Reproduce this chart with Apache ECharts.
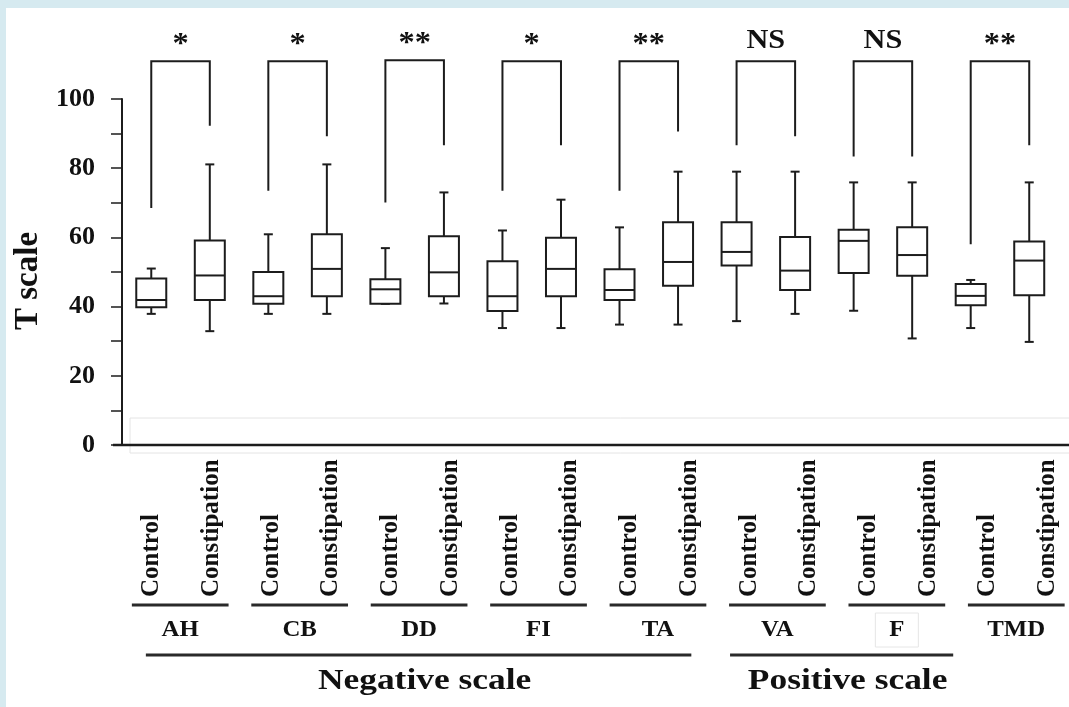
<!DOCTYPE html>
<html><head><meta charset="utf-8">
<script src="https://cdn.jsdelivr.net/npm/echarts@6/dist/echarts.min.js"></script>
<style>
html,body{margin:0;padding:0;background:#d6eaf0;overflow:hidden;width:1069px;height:707px;}
#bg{position:absolute;left:6px;top:8px;width:1120px;height:720px;background:#fff;}
#c{position:absolute;left:0;top:0;width:1110px;height:707px;}
</style>
</head><body><div id="bg"></div><div id="c"></div>
<script>
// ---------- data ----------
const categories = ['Control','Constipation','Control','Constipation','Control','Constipation','Control','Constipation',
                    'Control','Constipation','Control','Constipation','Control','Constipation','Control','Constipation'];
const groupNames = ['AH','CB','DD','FI','TA','VA','F','TMD'];
const superNames = ['Negative scale','Positive scale'];
const superFirst = [0, 10];   // first category index of each super group
const superLast  = [9, 13];   // last category index of each super group
const minVals = [37.9,32.9, 37.9,37.9, 40.8,40.9, 33.8,33.8, 34.8,34.8, 35.8,37.9, 38.8,30.8, 33.8,29.8];
const q1Vals  = [39.8,41.9, 40.8,43.0, 40.8,43.0, 38.7,43.0, 41.9,46.0, 51.9,44.8, 49.7,48.9, 40.4,43.3];
const medVals = [41.9,49.0, 43.0,50.9, 45.0,49.9, 43.0,50.9, 44.8,52.9, 55.8,50.4, 59.0,54.9, 43.1,53.3];
const q3Vals  = [48.1,59.1, 50.0,60.9, 47.9,60.3, 53.1,59.9, 50.8,64.4, 64.4,60.1, 62.2,62.9, 46.5,58.8];
const maxVals = [51.0,81.1, 60.9,81.1, 56.9,73.0, 62.0,70.9, 62.9,79.0, 79.0,79.0, 75.9,75.9, 47.7,75.9];
const sigLabels  = ['*','*','**','*','**','NS','NS','**'];
const bracketTop = [110.9,110.9,111.2,110.9,110.9,110.9,110.9,110.9];
const leftLeg    = [68.5,73.5,70.1,73.5,73.5,86.6,83.4,58.0];
const rightLeg   = [92.3,89.2,86.6,86.6,90.6,89.2,83.4,86.6];
const yTickLabels = [0,20,40,60,80,100];

// ---------- chart ----------
const SERIF = '"Liberation Serif","Times New Roman",serif';
const INK = '#1c1c1c';
const chart = echarts.init(document.getElementById('c'), null, {renderer:'canvas'});

function renderBox(params, api){
  const i = api.value(0);
  const x = api.coord([i, 0])[0];
  const y = k => api.coord([i, api.value(k)])[1];
  const yMin=y(1), yQ1=y(2), yMed=y(3), yQ3=y(4), yMax=y(5);
  const hw = 15, cw = 4.5;
  const st = {stroke:INK, lineWidth:2, fill:null};
  return {type:'group', children:[
    {type:'line', shape:{x1:x,y1:yMax,x2:x,y2:yQ3}, style:st},
    {type:'line', shape:{x1:x,y1:yQ1,x2:x,y2:yMin}, style:st},
    {type:'line', shape:{x1:x-cw,y1:yMax,x2:x+cw,y2:yMax}, style:st},
    {type:'line', shape:{x1:x-cw,y1:yMin,x2:x+cw,y2:yMin}, style:st},
    {type:'rect', shape:{x:x-hw,y:yQ3,width:2*hw,height:yQ1-yQ3}, style:{stroke:INK,lineWidth:2,fill:'#fff'}},
    {type:'line', shape:{x1:x-hw,y1:yMed,x2:x+hw,y2:yMed}, style:st}
  ]};
}

function renderBracket(params, api){
  const a  = api.coord([api.value(0), api.value(2)]);
  const b  = api.coord([api.value(1), api.value(2)]);
  const la = api.coord([api.value(0), api.value(3)]);
  const rb = api.coord([api.value(1), api.value(4)]);
  const lab = sigLabels[params.dataIndex];
  const isStar = lab.charAt(0) === '*';
  return {type:'group', children:[
    {type:'polyline', shape:{points:[[la[0],la[1]],[a[0],a[1]],[b[0],b[1]],[rb[0],rb[1]]]},
     style:{stroke:INK, lineWidth:2, fill:null}},
    {type:'text', x:(a[0]+b[0])/2, y:a[1] - (isStar ? 17 : 21), scaleX:1.08,
     style:{text:lab, fontSize:isStar?30:28, fontWeight:'bold', fontFamily:SERIF, fill:'#111',
            align:'center', verticalAlign:'middle'}}
  ]};
}

const option = {
  animation:false,
  backgroundColor:'transparent',
  grid:[
    {left:122, top:99, width:936.5, height:346},
    {left:122, top:99, width:955.5, height:346}
  ],
  xAxis:[
    {type:'category', gridIndex:0, data:categories, boundaryGap:true,
     axisLine:{show:false}, axisTick:{show:false}, axisLabel:{show:false}, splitLine:{show:false}},
    {type:'category', gridIndex:1, data:categories, boundaryGap:true,
     axisLine:{show:false}, axisTick:{show:false}, splitLine:{show:false},
     axisLabel:{interval:0, rotate:90, align:'left', verticalAlign:'middle', margin:152,
                fontSize:25, fontWeight:'bold', fontFamily:SERIF, color:'#111'}}
  ],
  yAxis:[
    {type:'value', gridIndex:0, min:0, max:100, interval:10,
     axisLine:{show:true, lineStyle:{color:INK, width:2}},
     axisTick:{show:true, inside:false, length:11, lineStyle:{color:INK, width:1.5}},
     splitLine:{show:false},
     axisLabel:{margin:27, fontSize:26, fontWeight:'bold', fontFamily:SERIF, color:'#111',
                formatter: v => (yTickLabels.indexOf(v) >= 0 ? String(v) : '')},
     name:'T scale', nameLocation:'middle', nameGap:75,
     nameTextStyle:{fontSize:33, fontWeight:'bold', fontFamily:SERIF, color:'#111', padding:[0,18,0,0]}},
    {type:'value', gridIndex:1, min:0, max:100, show:false}
  ],
  series:[
    {type:'custom', xAxisIndex:0, yAxisIndex:0, clip:false, renderItem:renderBox,
     data: categories.map((c,i)=>[i, minVals[i], q1Vals[i], medVals[i], q3Vals[i], maxVals[i]])},
    {type:'custom', xAxisIndex:0, yAxisIndex:0, clip:false, renderItem:renderBracket,
     data: groupNames.map((g,k)=>[2*k, 2*k+1, bracketTop[k], leftLeg[k], rightLeg[k]])}
  ]
};
chart.setOption(option);

// ---------- annotations positioned through the axes ----------
const px = i => chart.convertToPixel({xAxisIndex:1}, i);
const y0 = chart.convertToPixel({yAxisIndex:0}, 0);
const yLow = chart.convertToPixel({yAxisIndex:0}, 7.8);
const gLeft = 122;
const els = [];
// faint frame inside plot (scan artefact)
els.push({type:'rect', shape:{x:gLeft+8, y:yLow, width:1000, height:y0+8-yLow},
          style:{fill:'none', stroke:'#e4e4e4', lineWidth:1}, z:0});
// x axis base line
els.push({type:'line', shape:{x1:gLeft-9, y1:y0, x2:1100, y2:y0}, style:{stroke:INK, lineWidth:2.5}, z:5});
// group underlines and names
groupNames.forEach((g,k)=>{
  const x1 = px(2*k) - 20, x2 = px(2*k+1) + 17, cx = (x1+x2)/2;
  els.push({type:'line', shape:{x1:x1, y1:605, x2:x2, y2:605}, style:{stroke:'#2a2a2a', lineWidth:3}});
  if (g === 'F') {
    els.push({type:'rect', shape:{x:cx-21.5, y:613, width:43, height:34}, style:{fill:'none', stroke:'#e6e6e6', lineWidth:1}});
  }
  els.push({type:'text', x:cx, y:630.5, scaleX:1.08, style:{text:g, fontSize:23, fontWeight:'bold', fontFamily:SERIF,
            fill:'#111', align:'center', verticalAlign:'middle'}});
});
// super groups
const superPadL = [6, 19], superPadR = [2, 25];
superNames.forEach((s,k)=>{
  const x1 = px(superFirst[k]) - superPadL[k], x2 = px(superLast[k]) + superPadR[k];
  els.push({type:'line', shape:{x1:x1, y1:655, x2:x2, y2:655}, style:{stroke:'#2a2a2a', lineWidth:3}});
  els.push({type:'text', x:(x1+x2)/2 + 6, y:681, scaleX:1.18, style:{text:s, fontSize:30, fontWeight:'bold', fontFamily:SERIF,
            fill:'#111', align:'center', verticalAlign:'middle'}});
});
chart.setOption({graphic:{elements:els}});
</script>
</body></html>
